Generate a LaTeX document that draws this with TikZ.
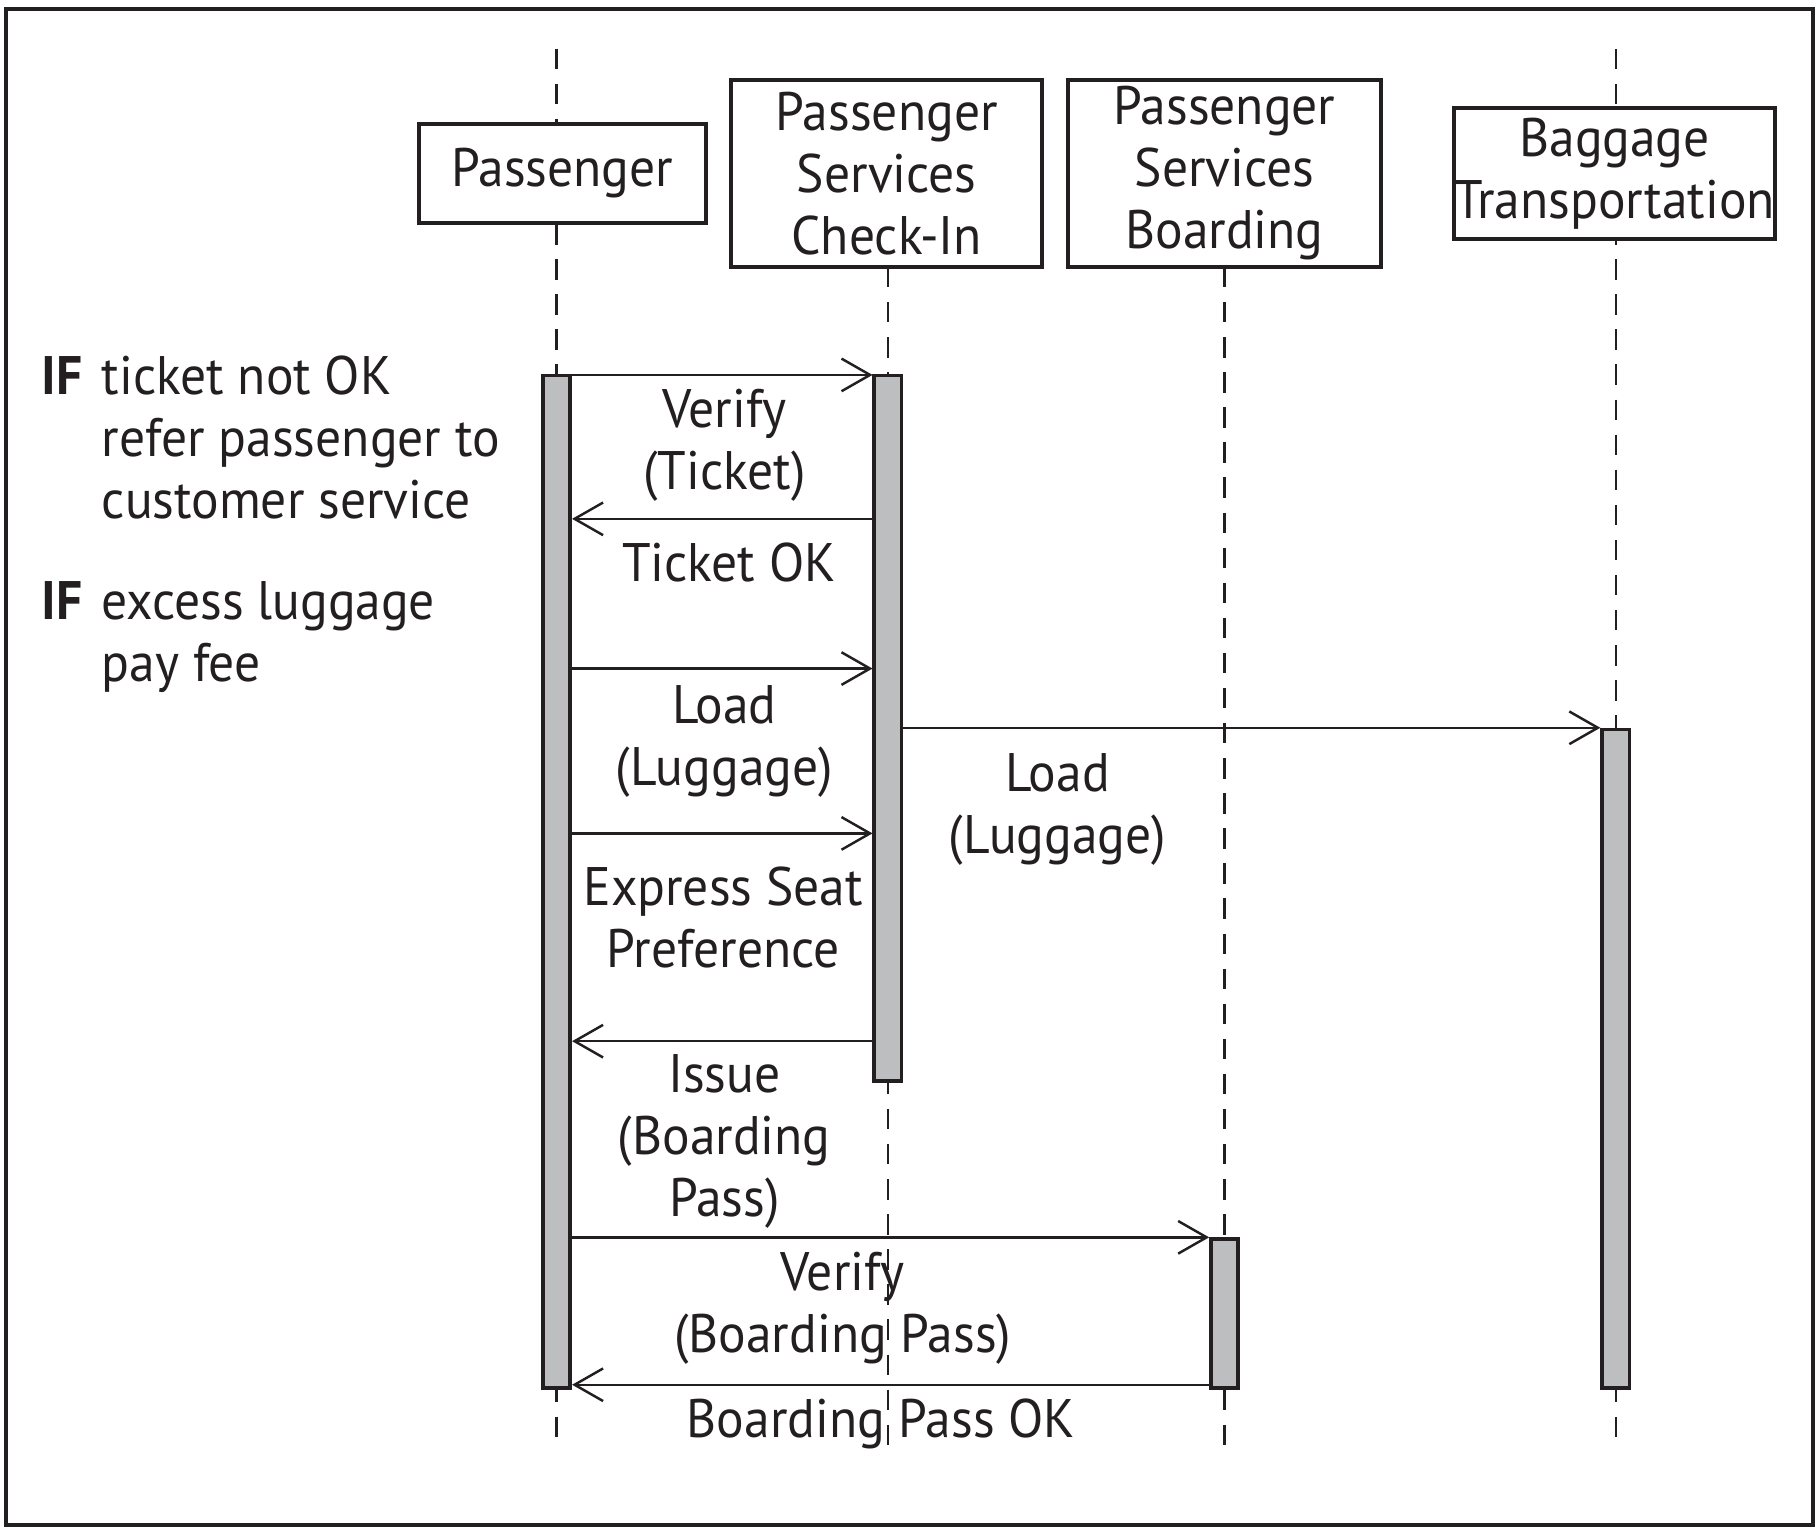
\documentclass[tikz,border=0pt]{standalone}
\usepackage{fontspec}
\setmainfont{PT Sans}[FakeStretch=0.95]
\usetikzlibrary{arrows.meta}
\definecolor{barfill}{RGB}{188,190,192}
\definecolor{ink}{RGB}{35,31,32}

\begin{document}
\begin{tikzpicture}[scale=0.1,
  every node/.style={font=\fontsize{13.3pt}{15.2pt}\selectfont, text=ink, inner sep=0pt},
  actor/.style={draw=ink, fill=white, line width=0.9pt, align=center},
  bar/.style={draw=ink, fill=barfill, line width=0.9pt, minimum width=0.235cm, anchor=north},
  life/.style={draw=ink, line width=0.6pt, dash pattern=on 5pt off 3.6pt},
  msg/.style={draw=ink, line width=0.6pt, -{Straight Barb[length=7pt, width=8pt, line width=0.6pt]}},
  lbl/.style={align=center},
  note/.style={align=left, anchor=west}]
\useasboundingbox (0,0) rectangle (156.8,-131.8);
\draw [ink, line width=0.9pt] (0.5,-0.8) rectangle (156.2,-131.4);
% lifelines
\coordinate (p top) at (47.95,-4.2);
\coordinate (p end) at (47.95,-125);
\coordinate (c top) at (76.5,-23);
\coordinate (c end) at (76.5,-125);
\coordinate (b top) at (105.5,-23);
\coordinate (b end) at (105.5,-125);
\coordinate (g top) at (139.2,-4.2);
\coordinate (g end) at (139.2,-125);
\draw [life] (p top) -- (p end);
\draw [life] (c top) -- (c end);
\draw [life] (b top) -- (b end);
\draw [life] (g top) -- (g end);
% objects
\node [actor, minimum width=2.47cm, minimum height=0.85cm] (pass) at (48.45,-14.95) {Passenger};
\node [actor, minimum width=2.68cm, minimum height=1.61cm] (chk) at (76.4,-14.95) {Passenger\\Services\\Check-In};
\node [actor, minimum width=2.70cm, minimum height=1.61cm] (brd) at (105.5,-14.95) {Passenger\\Services\\Boarding};
\node [actor, minimum width=2.76cm, minimum height=1.13cm] (bag) at (139.1,-14.95) {Baggage\\Transportation};
% activations
\node [bar, minimum height=8.72cm] (pbar) at (47.95,-32.2) {};
\node [bar, minimum height=6.08cm] (cbar) at (76.5,-32.2) {};
\node [bar, minimum height=1.28cm] (bbar) at (105.5,-106.6) {};
\node [bar, minimum height=5.67cm] (gbar) at (139.2,-62.7) {};
% messages
\draw [msg] (pbar.east |- 0,-32.3) -- (cbar.west |- 0,-32.3);
\draw [msg] (cbar.west |- 0,-44.7) -- (pbar.east |- 0,-44.7);
\draw [msg] (pbar.east |- 0,-57.6) -- (cbar.west |- 0,-57.6);
\draw [msg] (cbar.east |- 0,-62.7) -- (gbar.west |- 0,-62.7);
\draw [msg] (pbar.east |- 0,-71.8) -- (cbar.west |- 0,-71.8);
\draw [msg] (cbar.west |- 0,-89.7) -- (pbar.east |- 0,-89.7);
\draw [msg] (pbar.east |- 0,-106.6) -- (bbar.west |- 0,-106.6);
\draw [msg] (bbar.west |- 0,-119.3) -- (pbar.east |- 0,-119.3);
\node [lbl] (m1) at (62.4,-38.4) {Verify\\(Ticket)};
\node [lbl] (m2) at (62.8,-48.5) {Ticket OK};
\node [lbl] (m3) at (62.4,-63.85) {Load\\(Luggage)};
\node [lbl] (m4) at (91.1,-69.7) {Load\\(Luggage)};
\node [lbl] (m5) at (62.3,-79.05) {Express Seat\\Preference};
\node [lbl] (m6) at (62.4,-98.35) {Issue\\(Boarding\\Pass)};
\node [lbl] (m7) at (72.6,-112.7) {Verify\\(Boarding Pass)};
\node [lbl] (m8) at (75.9,-122.7) {Boarding Pass OK};
% conditions
\node [note] (cond1) at (3.5,-37.7) {\makebox[5.2mm][l]{\textbf{IF}}ticket not OK\\\hspace*{5.2mm}refer passenger to\\\hspace*{5.2mm}customer service};
\node [note] (cond2) at (3.5,-54.85) {\makebox[5.2mm][l]{\textbf{IF}}excess luggage\\\hspace*{5.2mm}pay fee};
\end{tikzpicture}
\end{document}
